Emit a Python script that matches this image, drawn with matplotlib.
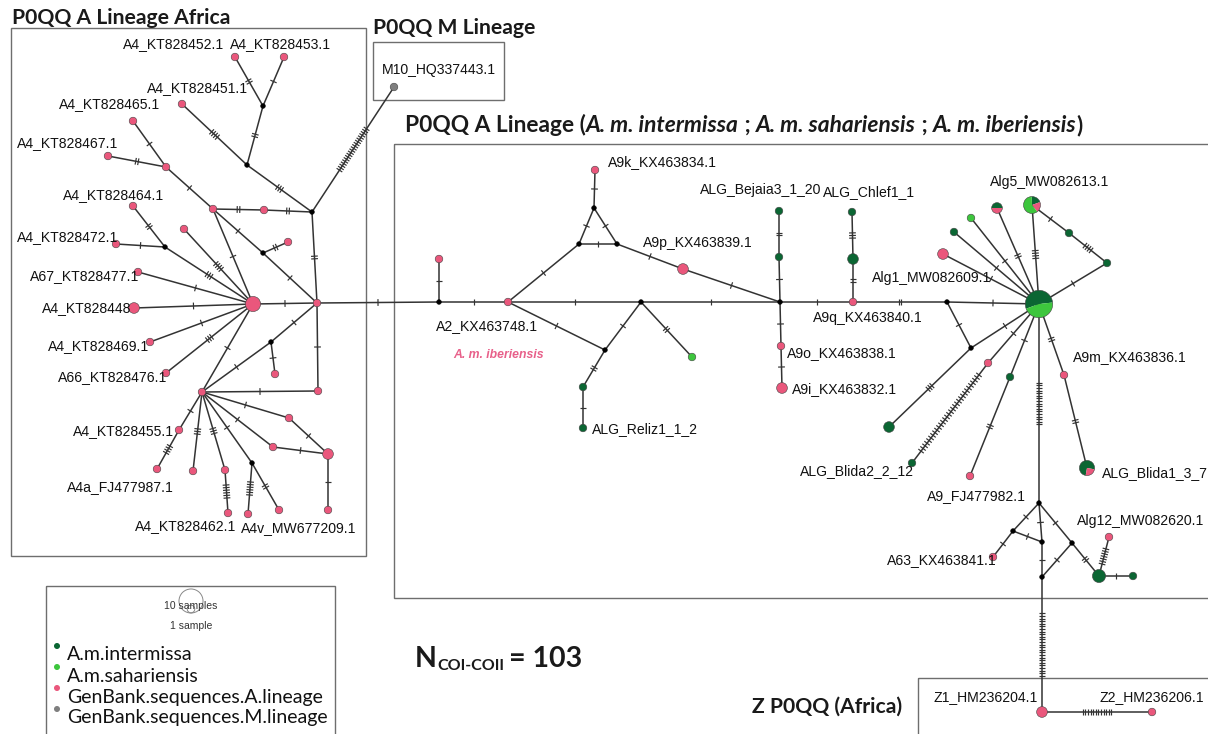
import matplotlib
matplotlib.use("Agg")
import matplotlib.pyplot as plt
import numpy as np
from matplotlib.collections import LineCollection
from matplotlib.patches import Circle, Wedge, Rectangle

W, H = 1208, 734

# ---- 单倍型节点:画布像素坐标 + 各类群样本数 (intermissa, sahariensis, GenBank A, GenBank M) ----
node_id = [
    "L1", "L2", "mv1", "L3", "mv2", "mv3", "M10", "L4", "L5", "L6", "L7", "L8", "L9",
    "L10", "mv4", "L11", "mv5", "L12", "L13", "HUB1", "L14", "L15", "L16", "L17",
    "mv6", "L18", "L19", "HUB2", "L20", "L21", "L22", "L23", "L24", "L25", "L26",
    "mv7", "L27", "L28", "L29", "L30",
    "mv8", "R1", "R2", "mv9", "mv10", "mv11", "R3", "R4", "mv12", "mv13", "mv14",
    "R5", "R6", "R7", "R8", "R9", "R10", "R11", "R12", "R13", "R14", "mv15", "HUB3",
    "mv16", "R15", "R16", "R17", "R18", "R19", "R20", "R21", "R22", "R23", "R24",
    "R25", "R26", "R27", "R28", "mv17", "mv18", "R29", "mv19", "mv20", "mv21",
    "R30", "R31", "R32", "Z1", "Z2",
]
node_x = [
    235, 284, 263, 182, 247, 312, 394, 133, 108, 166, 213, 264, 184,
    133, 165, 116, 263, 288, 138, 253, 317, 134, 150, 166,
    271, 275, 318, 202, 179, 289, 273, 328, 157, 193, 225,
    252, 228, 248, 279, 328,
    439, 439, 508, 579, 617, 594, 595, 683, 641, 780, 605,
    692, 583, 583, 779, 779, 781, 782, 853, 852, 853, 947, 1039,
    971, 889, 988, 912, 1010, 970, 1064, 1087, 943, 954, 971,
    997, 1032, 1069, 1107, 1039, 1013, 993, 1042, 1042, 1072,
    1099, 1109, 1133, 1042, 1152,
]
node_y = [
    57, 57, 106, 104, 165, 212, 87, 121, 156, 167, 209, 210, 229,
    206, 247, 244, 253, 242, 272, 304, 303, 308, 342, 373,
    342, 374, 391, 392, 430, 418, 447, 454, 469, 471, 470,
    463, 513, 514, 510, 510,
    302, 259, 302, 244, 244, 208, 170, 269, 302, 302, 350,
    357, 387, 428, 211, 257, 346, 388, 302, 212, 259, 302, 304,
    348, 427, 363, 463, 377, 476, 375, 468, 254, 232, 218,
    208, 205, 233, 263, 503, 531, 557, 542, 577, 543,
    576, 537, 576, 712, 712,
]
n_int = [
    0, 0, 0, 0, 0, 0, 0, 0, 0, 0, 0, 0, 0,
    0, 0, 0, 0, 0, 0, 0, 0, 0, 0, 0,
    0, 0, 0, 0, 0, 0, 0, 0, 0, 0, 0,
    0, 0, 0, 0, 0,
    0, 0, 0, 0, 0, 0, 0, 0, 0, 0, 0,
    0, 1, 1, 1, 1, 0, 0, 0, 1, 2, 0, 7,
    0, 2, 0, 1, 1, 0, 0, 3, 0, 1, 0,
    1, 1, 1, 1, 0, 0, 0, 0, 0, 0,
    3, 0, 1, 0, 0,
]
n_sah = [0] * 51 + [1] + [0] * 10 + [6] + [0] * 10 + [1, 0, 3] + [0] * 16
n_genA = [
    1, 1, 0, 1, 0, 0, 0, 1, 1, 1, 1, 1, 1,
    1, 0, 1, 0, 1, 1, 4, 1, 2, 1, 1,
    0, 1, 1, 1, 1, 1, 1, 2, 1, 1, 1,
    0, 1, 1, 1, 1,
    0, 1, 1, 0, 0, 0, 1, 2, 0, 0, 0,
    0, 0, 0, 0, 0, 1, 2, 1, 0, 0, 0, 0,
    0, 0, 1, 0, 0, 1, 1, 1, 2, 0, 0,
    1, 1, 0, 0, 0, 0, 1, 0, 0, 0,
    0, 1, 0, 2, 1,
]
n_genM = [0] * 6 + [1] + [0] * 82

# 混合节点的饼图起始角(屏幕角度,顺时针排 intermissa → GenBank A → sahariensis)
pie_start = {"HUB3": 200, "R26": 92, "R25": 180, "R21": 260}

# ---- 连线:两端节点 + 突变步数 ----
edge_a = [
    "L1", "L2", "mv1", "L3", "mv2", "mv3", "mv3", "L8", "mv3", "L4", "L5", "L6",
    "L7", "mv5", "mv5", "L7", "L9", "L10", "L11", "mv4", "L13", "L15", "L16", "L17",
    "HUB1", "HUB1", "HUB2", "mv6", "mv6", "L14", "HUB2", "HUB2", "L20", "HUB2",
    "HUB2", "L26", "HUB2", "mv7", "mv7", "HUB2", "L21", "HUB2", "L22", "L23", "L14",
    "mv8", "mv8", "R2", "mv9", "mv9", "mv10", "mv11", "mv10", "R4", "R2", "mv12",
    "R2", "mv12", "mv12", "mv14", "R6", "R8", "R9", "mv13", "R10", "mv13", "R13",
    "R14", "R12", "mv15", "mv15", "mv16", "mv16", "HUB3", "R16", "HUB3", "R18",
    "HUB3", "R20", "R22", "R23", "R24", "R25", "R26", "R26", "R27", "R28", "HUB3",
    "mv17", "mv18", "mv18", "mv17", "mv19", "mv20", "mv17", "mv21", "R30", "R30",
    "mv20", "Z1",
]
edge_b = [
    "mv1", "mv1", "mv2", "mv2", "mv3", "M10", "L8", "L7", "L14", "L6", "L6", "L7",
    "mv5", "L14", "L12", "HUB1", "HUB1", "mv4", "mv4", "HUB1", "HUB1", "HUB1", "HUB1",
    "HUB1", "L14", "HUB2", "mv6", "L14", "L18", "L19", "L19", "L20", "L24", "L25",
    "L26", "L27", "mv7", "L28", "L29", "L21", "L23", "L22", "L23", "L30", "mv8",
    "R1", "R2", "mv9", "mv10", "mv11", "mv11", "R3", "R4", "mv13", "mv12", "mv13",
    "mv14", "mv14", "R5", "R6", "R7", "R9", "mv13", "R10", "R11", "R12", "R14",
    "R12", "mv15", "HUB3", "mv16", "HUB3", "R15", "R16", "R17", "R18", "R19",
    "R20", "R21", "HUB3", "HUB3", "HUB3", "HUB3", "HUB3", "R27", "R28", "HUB3",
    "mv17", "mv18", "R29", "mv19", "mv19", "mv20", "mv21", "mv21", "R30", "R31",
    "R32", "Z1", "Z2",
]
edge_mut = [
    2, 1, 2, 4, 3, 20, 2, 2, 2, 1, 2, 1,
    1, 1, 2, 1, 4, 2, 1, 3, 1, 1, 1, 3,
    1, 1, 1, 1, 1, 1, 1, 1, 4, 3,
    3, 6, 1, 6, 2, 1, 1, 1, 1, 1, 1,
    1, 1, 1, 1, 1, 1, 1, 1, 1, 1, 1,
    1, 1, 2, 2, 1, 2, 1, 1, 1, 1, 3,
    2, 2, 1, 1, 1, 3, 1, 30, 1, 2,
    2, 2, 1, 1, 1, 2, 4, 1, 4, 1, 17,
    1, 1, 1, 1, 1, 1, 1, 2, 7, 1,
    25, 12,
]

# ---- 节点标签 ----
lab_text = [
    "A4_KT828452.1", "A4_KT828453.1", "A4_KT828451.1", "A4_KT828465.1",
    "A4_KT828467.1", "A4_KT828464.1", "A4_KT828472.1", "A67_KT828477.1",
    "A4_KT828448", "A4_KT828469.1", "A66_KT828476.1", "A4_KT828455.1",
    "A4a_FJ477987.1", "A4_KT828462.1", "A4v_MW677209.1", "M10_HQ337443.1",
    "A9k_KX463834.1", "A9p_KX463839.1", "A2_KX463748.1", "ALG_Reliz1_1_2",
    "ALG_Bejaia3_1_20", "ALG_Chlef1_1", "A9q_KX463840.1", "A9o_KX463838.1",
    "A9i_KX463832.1", "Alg5_MW082613.1", "Alg1_MW082609.1", "A9m_KX463836.1",
    "ALG_Blida2_2_12", "ALG_Blida1_3_7", "A9_FJ477982.1", "Alg12_MW082620.1",
    "A63_KX463841.1", "Z1_HM236204.1", "Z2_HM236206.1",
]
lab_x = [
    123, 230, 147, 59, 17, 63, 17, 30, 42, 48, 58, 73, 67, 135, 241, 382,
    608, 643, 436, 592, 700, 823, 813, 787, 792, 990, 872, 1073, 800, 1102,
    927, 1077, 887, 933, 1100,
]
lab_y = [
    44, 44, 88, 104, 143, 195, 237, 276, 308, 346, 377, 431, 487, 526, 528, 70,
    162, 243, 326, 429, 190, 192, 318, 353, 389, 182, 278, 357, 471, 473,
    496, 521, 560, 697, 697,
]

legend_names = ["A.m.intermissa", "A.m.sahariensis",
                "GenBank.sequences.A.lineage", "GenBank.sequences.M.lineage"]
N_TOTAL = 103

C_INT, C_SAH, C_GENA, C_GENM = "#0B6633", "#3DC63D", "#EA577C", "#7F7F7F"
R1 = 3.8          # 1 个样本的半径(px),面积正比样本数
LINE = "#333333"
BOXC = "#6E6E6E"

plt.rcParams["font.family"] = ["Liberation Sans", "DejaVu Sans"]

fig = plt.figure(figsize=(W / 100, H / 100), dpi=100)
ax = fig.add_axes([0, 0, 1, 1])
ax.set_xlim(0, W)
ax.set_ylim(H, 0)
ax.axis("off")

pos = {k: (x, y) for k, x, y in zip(node_id, node_x, node_y)}

# 分组框
for x0, y0, x1, y1 in [(11, 28, 366, 556), (373, 42, 504, 100), (394, 144, 1215, 598),
                       (918, 678, 1215, 745), (46, 586, 335, 745)]:
    ax.add_patch(Rectangle((x0, y0), x1 - x0, y1 - y0, fill=False, ec=BOXC, lw=1.0, zorder=1))

# 连线 + 突变刻痕
segs, ticks = [], []
for a, b, k in zip(edge_a, edge_b, edge_mut):
    p, q = np.array(pos[a], float), np.array(pos[b], float)
    segs.append([p, q])
    u = (q - p) / np.hypot(*(q - p))
    nv = np.array([-u[1], u[0]])
    mid = (p + q) / 2
    sp = 3.3 if k >= 30 else 2.6
    for i in range(k):
        c = mid + (i - (k - 1) / 2) * sp * u
        ticks.append([c - 3.4 * nv, c + 3.4 * nv])
ax.add_collection(LineCollection(segs, colors=LINE, linewidths=1.1, zorder=2))
ax.add_collection(LineCollection(ticks, colors=LINE, linewidths=0.85, zorder=2))

# 节点
for k, x, y, ni, ns, na, nm in zip(node_id, node_x, node_y, n_int, n_sah, n_genA, n_genM):
    tot = ni + ns + na + nm
    if tot == 0:
        ax.add_patch(Circle((x, y), 2.4, fc="black", ec="black", lw=0.3, zorder=4))
        continue
    r = R1 * np.sqrt(tot)
    parts = [(ni, C_INT), (na, C_GENA), (ns, C_SAH), (nm, C_GENM)]
    parts = [(n, c) for n, c in parts if n > 0]
    if len(parts) == 1:
        c = parts[0][1]
        ax.add_patch(Circle((x, y), r, fc=c, ec="#444444", lw=0.4, zorder=4))
        continue
    s = pie_start[k]
    for n, c in parts:
        span = 360 * n / tot
        ax.add_patch(Wedge((x, y), r, -s, -s + span, fc=c, ec="none", zorder=4))
        s -= span
    ax.add_patch(Circle((x, y), r, fill=False, ec="#444444", lw=0.4, zorder=5))

for t, x, y in zip(lab_text, lab_x, lab_y):
    ax.text(x, y, t, fontsize=10.1, ha="left", va="center", color="#111111", zorder=6)

ax.text(453, 355, "A. m. iberiensis", fontsize=8.8, color="#E8608A",
        fontweight="bold", style="italic", ha="left", va="center")

# 标题(粗体,学名斜体)
renderer = fig.canvas.get_renderer()
TFONT = ["Lato", "DejaVu Sans"]


def run_text(x, y, pieces, size):
    for txt, sty in pieces:
        t = ax.text(x, y, txt, fontsize=size, fontweight="bold", style=sty,
                    family=TFONT, ha="left", va="baseline", color="#1a1a1a")
        x += t.get_window_extent(renderer).width
    return x


run_text(12, 24, [("P0QQ A Lineage Africa", "normal")], 15.2)
run_text(373, 34, [("P0QQ M Lineage", "normal")], 15.2)
run_text(405, 132, [("P0QQ A Lineage (", "normal"), ("A. m. intermissa", "italic"),
                    (" ; ", "normal"), ("A. m. sahariensis", "italic"),
                    (" ; ", "normal"), ("A. m. iberiensis", "italic"),
                    (")", "normal")], 16.4)
run_text(752, 713, [("Z P0QQ (Africa)", "normal")], 15.2)

# N 统计
t = ax.text(415, 667, "N", fontsize=20.5, fontweight="bold", family=TFONT,
            ha="left", va="baseline", color="#1a1a1a")
x = 415 + t.get_window_extent(renderer).width + 1
t = ax.text(x, 670, "COI-COII", fontsize=11.5, fontweight="bold", family=TFONT,
            ha="left", va="baseline", color="#1a1a1a")
x += t.get_window_extent(renderer).width + 4
ax.text(x, 667, f"= {N_TOTAL}", fontsize=20.5, fontweight="bold", family=TFONT,
        ha="left", va="baseline", color="#1a1a1a")

# 图例:样本量圆 + 类群色点
ax.add_patch(Circle((191, 601), R1 * np.sqrt(10), fill=False, ec="#888888", lw=0.7))
ax.add_patch(Circle((191, 609), R1, fill=False, ec="#888888", lw=0.7))
ax.text(191, 606, "10 samples", fontsize=7.5, ha="center", va="center", color="#333333")
ax.text(191, 626, "1 sample", fontsize=7.5, ha="center", va="center", color="#333333")
for i, (name, c) in enumerate(zip(legend_names, [C_INT, C_SAH, C_GENA, C_GENM])):
    y = 655 + 21 * i
    ax.add_patch(Circle((57, y - 9), 3.0, fc=c, ec="none"))
    ax.text(67, y, name, fontsize=14, family=TFONT, ha="left", va="center", color="#111111")

fig.savefig("out.png", dpi=100, facecolor="white")
